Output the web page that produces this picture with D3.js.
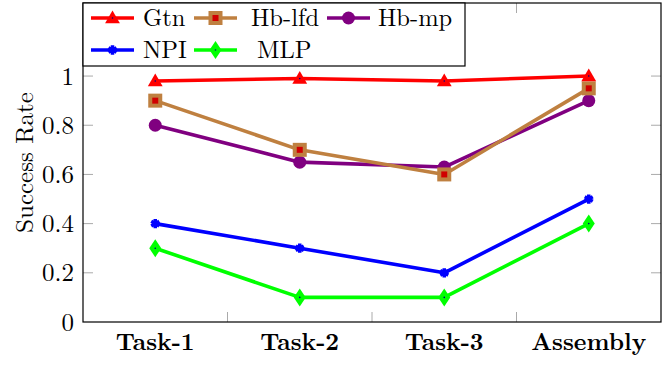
<!DOCTYPE html>
<html>
<head>
<meta charset="utf-8">
<style>
  body { margin: 0; background: white; }
  svg { display: block; }
</style>
<script src="https://cdn.jsdelivr.net/npm/d3@7"></script>
</head>
<body>
<svg id="chart"></svg>
<script>
// data
let tasks = ["Task-1", "Task-2", "Task-3", "Assembly"];
let gtn = [0.98, 0.99, 0.98, 1.0];
let hbLfd = [0.9, 0.7, 0.6, 0.95];
let hbMp = [0.8, 0.65, 0.63, 0.9];
let npi = [0.4, 0.3, 0.2, 0.5];
let mlp = [0.3, 0.1, 0.1, 0.4];
let yTicks = [0, 0.2, 0.4, 0.6, 0.8, 1];

let series = [
  { name: "Gtn", values: gtn, color: "#ff0000", mark: "triangle" },
  { name: "Hb-lfd", values: hbLfd, color: "#bf8040", mark: "square" },
  { name: "Hb-mp", values: hbMp, color: "#800080", mark: "circle" },
  { name: "NPI", values: npi, color: "#0000ff", mark: "star" },
  { name: "MLP", values: mlp, color: "#00ff00", mark: "diamond" }
];

let font = '"Latin Modern Roman", "Liberation Serif", serif';
let width = 664, height = 365;
let margin = { top: 3, right: 3, bottom: 43, left: 83 };

let svg = d3.select("#chart").attr("width", width).attr("height", height);

let x = d3.scaleBand().domain(tasks).range([margin.left, width - margin.right]);
let y = d3.scaleLinear().domain([0, 1.297]).range([height - margin.bottom, margin.top]);
let cx = d => x(d) + x.bandwidth() / 2;

// tick marks (inward, grey)
let tickG = svg.append("g").attr("stroke", "#aaa").attr("stroke-width", 1);
let bounds = tasks.slice(1).map(t => x(t));
bounds.forEach(b => {
  tickG.append("line").attr("x1", b).attr("x2", b)
    .attr("y1", y(0)).attr("y2", y(0) - 10);
  tickG.append("line").attr("x1", b).attr("x2", b)
    .attr("y1", margin.top).attr("y2", margin.top + 10);
});
yTicks.slice(1).forEach(t => {
  tickG.append("line").attr("x1", margin.left).attr("x2", margin.left + 10)
    .attr("y1", y(t)).attr("y2", y(t));
  tickG.append("line").attr("x1", width - margin.right).attr("x2", width - margin.right - 10)
    .attr("y1", y(t)).attr("y2", y(t));
});

// axes labels
let xAxis = svg.append("g")
  .attr("transform", `translate(0,${y(0)})`)
  .call(d3.axisBottom(x).tickSize(0).tickPadding(11));
xAxis.select(".domain").remove();
xAxis.selectAll("text")
  .style("font-family", font).style("font-weight", "bold")
  .attr("font-size", 24).attr("fill", "#000");

let yAxis = svg.append("g")
  .attr("transform", `translate(${margin.left},0)`)
  .call(d3.axisLeft(y).tickValues(yTicks).tickFormat(d3.format("")).tickSize(0).tickPadding(9));
yAxis.select(".domain").remove();
yAxis.selectAll("text")
  .style("font-family", font)
  .attr("font-size", 25).attr("fill", "#000");

svg.append("text")
  .attr("transform", `translate(33,${(y(0) + margin.top) / 2}) rotate(-90)`)
  .attr("text-anchor", "middle")
  .style("font-family", font)
  .attr("font-size", 25)
  .text("Success Rate");

// frame
svg.append("rect")
  .attr("x", margin.left).attr("y", margin.top)
  .attr("width", width - margin.left - margin.right)
  .attr("height", y(0) - margin.top)
  .attr("fill", "none").attr("stroke", "#000").attr("stroke-width", 1.2);

function drawMark(g, mark, color, px, py) {
  if (mark === "triangle") {
    g.append("path").attr("d", d3.symbol(d3.symbolTriangle, 95)())
      .attr("transform", `translate(${px},${py + 1})`).attr("fill", color);
    g.append("circle").attr("cx", px).attr("cy", py).attr("r", 0.8).attr("fill", "#000080");
  } else if (mark === "square") {
    g.append("rect").attr("x", px - 5).attr("y", py - 5).attr("width", 10).attr("height", 10)
      .attr("fill", "#d00000").attr("stroke", color).attr("stroke-width", 4);
  } else if (mark === "circle") {
    g.append("circle").attr("cx", px).attr("cy", py).attr("r", 6.5).attr("fill", color);
  } else if (mark === "star") {
    g.append("path").attr("d", d3.symbol(d3.symbolAsterisk, 60)())
      .attr("transform", `translate(${px},${py})`)
      .attr("fill", "none").attr("stroke", color).attr("stroke-width", 3.5);
  } else if (mark === "diamond") {
    g.append("path").attr("d", `M${px},${py - 9}L${px + 6},${py}L${px},${py + 9}L${px - 6},${py}Z`)
      .attr("fill", color);
    g.append("circle").attr("cx", px).attr("cy", py).attr("r", 0.8).attr("fill", "#000080");
  }
}

// lines and marks
let line = d3.line().x((d, i) => cx(tasks[i])).y(d => y(d));
let plot = svg.append("g");
series.slice().reverse().forEach(s => {
  let g = plot.append("g");
  g.append("path").attr("d", line(s.values))
    .attr("fill", "none").attr("stroke", s.color).attr("stroke-width", 3.6)
    .attr("stroke-linejoin", "round");
  s.values.forEach((v, i) => drawMark(g, s.mark, s.color, cx(tasks[i]), y(v)));
});

// legend
let leg = svg.append("g");
leg.append("rect").attr("x", 83).attr("y", 3).attr("width", 382).attr("height", 63)
  .attr("fill", "white").attr("stroke", "#000").attr("stroke-width", 1.2);
let legPos = [
  { lx: 91, ty: 143, row: 0 }, { lx: 194, ty: 251, row: 0 }, { lx: 327, ty: 378, row: 0 },
  { lx: 91, ty: 143, row: 1 }, { lx: 194, ty: 257, row: 1 }
];
series.forEach((s, i) => {
  let p = legPos[i];
  let ly = p.row === 0 ? 18 : 50;
  leg.append("line").attr("x1", p.lx).attr("x2", p.lx + 43).attr("y1", ly).attr("y2", ly)
    .attr("stroke", s.color).attr("stroke-width", 3.6);
  drawMark(leg, s.mark, s.color, p.lx + 21.5, ly);
  leg.append("text").attr("x", p.ty).attr("y", ly + 8)
    .style("font-family", font)
    .attr("font-size", 24.5).text(s.name);
});
</script>
</body>
</html>
